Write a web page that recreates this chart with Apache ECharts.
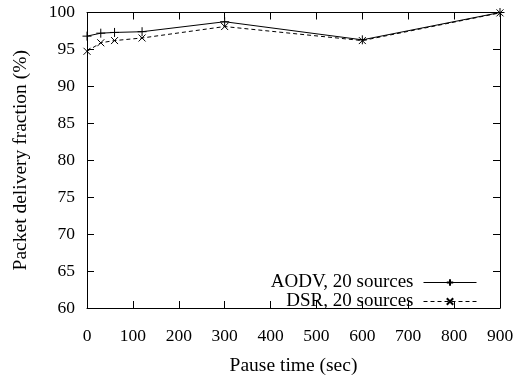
<!DOCTYPE html>
<html>
<head>
<meta charset="utf-8">
<script src="https://cdn.jsdelivr.net/npm/echarts@6/dist/echarts.min.js"></script>
<style>
html,body{margin:0;padding:0;background:#fff;}
#chart{width:520px;height:381px;}
</style>
</head>
<body>
<div id="chart"></div>
<script>
// Pause times (sec) and packet delivery fraction (%) per protocol
const pauseTimes = [0, 30, 60, 120, 300, 600, 900];
const aodv = [96.8, 97.2, 97.3, 97.4, 98.75, 96.3, 100];
const dsr = [94.75, 95.9, 96.2, 96.55, 98.1, 96.2, 99.95];
const seriesNames = ['AODV, 20 sources', 'DSR, 20 sources'];

const font = 'Liberation Serif, Times New Roman, serif';
const plus = 'path://M0,-1L0,1M-1,0L1,0';
const cross = 'path://M-1,-1L1,1M-1,1L1,-1';

const pair = (xs, ys) => xs.map((x, i) => [x, ys[i]]);

// gnuplot-style frame: axis lines on all four sides with inward ticks
function axis(opts) {
  const base = {
    type: 'value',
    axisLine: { show: true, onZero: false, lineStyle: { color: '#000', width: 1 } },
    axisTick: { show: true, inside: true, length: 7, lineStyle: { color: '#000', width: 1 } },
    splitLine: { show: false }
  };
  return Object.assign(base, opts);
}

const chart = echarts.init(document.getElementById('chart'));
chart.setOption({
  animation: false,
  backgroundColor: '#fff',
  textStyle: { fontFamily: font, color: '#000' },
  grid: { left: 87, right: 20, top: 12.5, bottom: 66 },
  legend: {
    data: seriesNames,
    orient: 'vertical',
    right: 38,
    top: 268,
    align: 'right',
    itemWidth: 53,
    itemHeight: 8,
    itemGap: 0,
    lineStyle: { width: 1 },
    textStyle: { fontFamily: font, fontSize: 19, color: '#000', lineHeight: 17, padding: [0, 5, 0, 0] }
  },
  xAxis: [
    axis({
      min: 0, max: 900, interval: 100, position: 'bottom',
      name: 'Pause time (sec)', nameLocation: 'middle', nameGap: 48,
      nameTextStyle: { fontFamily: font, fontSize: 19.5, color: '#000' },
      axisLabel: { fontFamily: font, fontSize: 17.5, color: '#000', margin: 19 }
    }),
    axis({
      min: 0, max: 900, interval: 100, position: 'top',
      axisLabel: { show: false }
    })
  ],
  yAxis: [
    axis({
      min: 60, max: 100, interval: 5, position: 'left',
      name: 'Packet delivery fraction (%)', nameLocation: 'middle', nameGap: 56,
      nameTextStyle: { fontFamily: font, fontSize: 19.5, color: '#000' },
      axisLabel: { fontFamily: font, fontSize: 17.5, color: '#000', margin: 12 }
    }),
    axis({
      min: 60, max: 100, interval: 5, position: 'right',
      axisLabel: { show: false }
    })
  ],
  series: [
    {
      name: seriesNames[0], type: 'line', xAxisIndex: 0, yAxisIndex: 0,
      data: pair(pauseTimes, aodv),
      symbol: plus, symbolSize: 9, showAllSymbol: true,
      lineStyle: { color: '#000', width: 1, type: 'solid' },
      itemStyle: { color: 'none', borderColor: '#000', borderWidth: 1 }
    },
    {
      name: seriesNames[1], type: 'line', xAxisIndex: 0, yAxisIndex: 0,
      data: pair(pauseTimes, dsr),
      symbol: cross, symbolSize: 7, showAllSymbol: true,
      lineStyle: { color: '#000', width: 1, type: [4, 3] },
      itemStyle: { color: 'none', borderColor: '#000', borderWidth: 1 }
    },
    // empty series bound to the mirrored top/right axes
    { type: 'line', xAxisIndex: 1, yAxisIndex: 1, data: [], silent: true }
  ]
});
</script>
</body>
</html>
